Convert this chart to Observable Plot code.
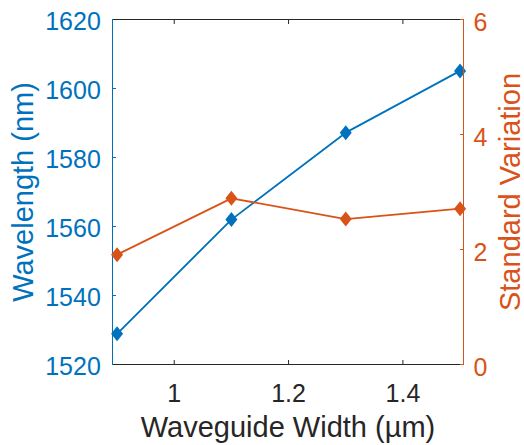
<!DOCTYPE html>
<html><head><meta charset="utf-8">
<script src="https://cdn.jsdelivr.net/npm/d3@7"></script>
<script src="https://cdn.jsdelivr.net/npm/@observablehq/plot@0.6"></script>
<style>
body{margin:0;background:#fff;}
#chart{position:relative;width:524px;height:445px;}
#chart svg{position:absolute;left:0;top:0;}
</style>
</head><body><div id="chart"></div>
<script>
const widths = [0.9, 1.1, 1.3, 1.5];
const wavelengths = [1528.9, 1562.0, 1587.2, 1605.1];
const stdVariation = [1.91, 2.89, 2.53, 2.71];
const xTicks = [1, 1.2, 1.4];
const leftTicks = [1520, 1540, 1560, 1580, 1600, 1620];
const rightTicks = [0, 2, 4, 6];
const xLabel = "Waveguide Width (µm)";
const leftLabel = "Wavelength (nm)";
const rightLabel = "Standard Variation";

const blue = "#0072BD", orange = "#D95319", dark = "#262626";
const diamond = {draw(ctx){ const w = 6, h = 7.5; ctx.moveTo(0,-h); ctx.lineTo(w,0); ctx.lineTo(0,h); ctx.lineTo(-w,0); ctx.closePath(); }};
const font = "'Liberation Sans', Arial, Helvetica, sans-serif";
const fmt = d => String(d);
const none = () => "";
const common = {
  width: 524, height: 445,
  marginLeft: 112, marginRight: 61, marginTop: 19, marginBottom: 81,
  style: {fontFamily: font, fontSize: "25px", background: "transparent", overflow: "visible", color: dark}
};
const leftData = widths.map((w, i) => ({w, v: wavelengths[i]}));
const rightData = widths.map((w, i) => ({w, v: stdVariation[i]}));

const p1 = Plot.plot({
  ...common,
  x: {domain: [0.892, 1.506]},
  y: {domain: [1520, 1620]},
  marks: [
    Plot.axisX(xTicks, {anchor: "bottom", tickSize: -4, tickPadding: 23.25, tickFormat: fmt, stroke: dark, fill: dark, label: null}),
    Plot.axisX(xTicks, {anchor: "top", tickSize: -4, tickFormat: none, stroke: dark, label: null}),
    Plot.axisY(leftTicks, {anchor: "left", tickSize: -4, tickFormat: none, stroke: blue, label: null}),
    Plot.axisY(leftTicks, {anchor: "left", tickSize: 0, tickPadding: 11.7, dy: 2.5, tickFormat: fmt, stroke: "none", fill: blue, label: null}),
    Plot.frame({anchor: "top", stroke: dark}),
    Plot.frame({anchor: "bottom", stroke: dark}),
    Plot.frame({anchor: "left", stroke: blue}),
    Plot.line(leftData, {x: "w", y: "v", stroke: blue, strokeWidth: 1.8}),
    Plot.dot(leftData, {x: "w", y: "v", symbol: diamond, fill: blue, r: 6}),
    Plot.text([leftLabel], {text: d => d, frameAnchor: "left", textAnchor: "middle", lineAnchor: "middle", dx: -89, rotate: -90, fill: blue, fontSize: 29}),
    Plot.text([xLabel], {text: d => d, frameAnchor: "bottom", textAnchor: "middle", lineAnchor: "middle", dy: 63.4, fill: dark, fontSize: 29})
  ]
});

const p2 = Plot.plot({
  ...common,
  x: {domain: [0.892, 1.506], axis: null},
  y: {domain: [0, 6]},
  marks: [
    Plot.axisY(rightTicks, {anchor: "right", tickSize: -4, tickFormat: none, stroke: orange, label: null}),
    Plot.axisY(rightTicks, {anchor: "right", tickSize: 0, tickPadding: 10, dy: 3.5, tickFormat: fmt, stroke: "none", fill: orange, label: null}),
    Plot.frame({anchor: "right", stroke: orange}),
    Plot.line(rightData, {x: "w", y: "v", stroke: orange, strokeWidth: 1.8}),
    Plot.dot(rightData, {x: "w", y: "v", symbol: diamond, fill: orange, r: 6}),
    Plot.text([rightLabel], {text: d => d, frameAnchor: "right", textAnchor: "middle", lineAnchor: "middle", dx: 47, rotate: -90, fill: orange, fontSize: 29})
  ]
});

const el = document.getElementById("chart");
el.appendChild(p1);
el.appendChild(p2);
</script>
</body></html>
